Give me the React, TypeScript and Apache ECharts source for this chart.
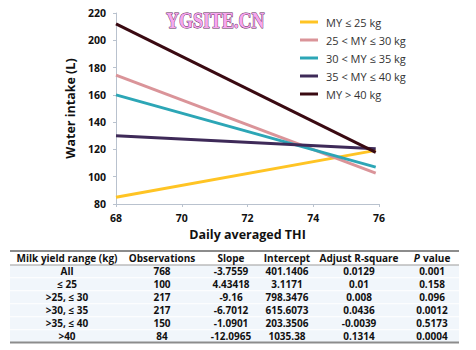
import React, { useEffect, useRef } from "react";
import * as echarts from "echarts";

// Chart data
const seriesNames = ["MY ≤ 25 kg", "25 < MY ≤ 30 kg", "30 < MY ≤ 35 kg", "35 < MY ≤ 40 kg", "MY > 40 kg"];
const seriesColors = ["#FFC424", "#DA9499", "#2CA6B6", "#3E2A58", "#3A0A12"];
const thiStart = 68;
const thiEnd = 75.9;
const startValues = [85, 174.5, 160, 130, 212];
const endValues = [119.3, 102.7, 107, 120.5, 117.8];

// Table data
const tableHeaders = ["Milk yield range (kg)", "Observations", "Slope", "Intercept", "Adjust R-square", "P value"];
const rangeLabels = ["All", "≤ 25", ">25, ≤ 30", ">30, ≤ 35", ">35, ≤ 40", ">40"];
const observations = ["768", "100", "217", "217", "150", "84"];
const slopes = ["-3.7559", "4.43418", "-9.16", "-6.7012", "-1.0901", "-12.0965"];
const intercepts = ["401.1406", "3.1171", "798.3476", "615.6073", "203.3506", "1035.38"];
const rSquares = ["0.0129", "0.01", "0.008", "0.0436", "-0.0039", "0.1314"];
const pValues = ["0.001", "0.158", "0.096", "0.0012", "0.5173", "0.0004"];

export default function App() {
  const ref = useRef<HTMLDivElement>(null);
  useEffect(() => {
    if (!ref.current) return;
    const chart = echarts.init(ref.current, undefined, { renderer: "svg" });

    const colX = [67, 162, 231, 287, 359, 432];
    const tableLeft = 10;
    const tableRight = 459;
    const headerY = 258;
    const rowY0 = 271.3;
    const rowH = 13;
    const font = "'Open Sans', 'DejaVu Sans', sans-serif";
    const tfs = 10;
    const columns = [rangeLabels, observations, slopes, intercepts, rSquares, pValues];

    const graphics: any[] = [];
    for (let r = 0; r < rangeLabels.length; r++) {
      graphics.push({
        type: "rect",
        shape: { x: tableLeft, y: rowY0 + r * rowH - rowH / 2 + 0.5, width: tableRight - tableLeft, height: rowH - 1 },
        style: { fill: "#F1F6FB" },
        silent: true,
      });
    }
    graphics.push({ type: "line", shape: { x1: tableLeft, y1: 251, x2: tableRight, y2: 251 }, style: { stroke: "#8C8C8C", lineWidth: 2 } });
    graphics.push({ type: "line", shape: { x1: tableLeft, y1: 265, x2: tableRight, y2: 265 }, style: { stroke: "#9A9A9A", lineWidth: 1 } });
    graphics.push({ type: "line", shape: { x1: tableLeft, y1: 342.5, x2: tableRight, y2: 342.5 }, style: { stroke: "#8C8C8C", lineWidth: 2 } });

    tableHeaders.forEach((h, i) => {
      if (i === 5) {
        graphics.push({
          type: "text",
          x: colX[i],
          y: headerY,
          style: {
            text: "{i|P} {n|value}",
            align: "center",
            verticalAlign: "middle",
            rich: {
              i: { fontStyle: "italic", fontWeight: "bold", fontSize: tfs, fontFamily: font, fill: "#111" },
              n: { fontWeight: "bold", fontSize: tfs, fontFamily: font, fill: "#111" },
            },
          },
        });
      } else {
        graphics.push({
          type: "text",
          x: colX[i],
          y: headerY,
          style: { text: h, align: "center", verticalAlign: "middle", fontWeight: "bold", fontSize: tfs, fontFamily: font, fill: "#111" },
        });
      }
    });
    columns.forEach((col, c) => {
      col.forEach((v, r) => {
        graphics.push({
          type: "text",
          x: colX[c],
          y: rowY0 + r * rowH,
          style: { text: v, align: "center", verticalAlign: "middle", fontWeight: "bold", fontSize: tfs, fontFamily: font, fill: "#111" },
        });
      });
    });

    // watermark
    graphics.push({
      type: "text",
      x: 166,
      y: 9,
      scaleY: 1.25,
      style: {
        text: "YGSITE.CN",
        fontSize: 18,
        fontWeight: "bold",
        fontFamily: "'Liberation Serif', 'DejaVu Serif', serif",
        fill: "#F7A6EE",
        stroke: "#5A2A55",
        lineWidth: 0.8,
      },
    });

    chart.setOption({
      animation: false,
      backgroundColor: "#ffffff",
      grid: { left: 116, right: 97, top: 13, bottom: 146 },
      legend: {
        orient: "vertical",
        left: 295,
        top: 10,
        icon: "rect",
        itemWidth: 18,
        itemHeight: 3,
        itemGap: 4,
        textStyle: { fontSize: 11, color: "#333", fontFamily: font, lineHeight: 14, padding: [0, 0, 0, 3] },
        data: seriesNames,
      },
      xAxis: {
        type: "value",
        min: 68,
        max: 76,
        interval: 2,
        name: "Daily averaged THI",
        nameLocation: "middle",
        nameGap: 23,
        nameTextStyle: { fontSize: 12.5, fontWeight: "bold", color: "#111", fontFamily: font },
        axisLine: { show: true, lineStyle: { color: "#B9C2CE", width: 1 } },
        axisTick: { show: true, length: 3, lineStyle: { color: "#B9C2CE" } },
        axisLabel: { fontSize: 10.5, fontWeight: "bold", color: "#111", margin: 8, fontFamily: font },
        splitLine: { show: false },
      },
      yAxis: {
        type: "value",
        min: 80,
        max: 220,
        interval: 20,
        name: "Water intake (L)",
        nameLocation: "middle",
        nameGap: 32,
        nameTextStyle: { fontSize: 12.5, fontWeight: "bold", color: "#111", fontFamily: font },
        axisLine: { show: true, lineStyle: { color: "#B9C2CE", width: 1 } },
        axisTick: { show: true, length: 3, lineStyle: { color: "#B9C2CE" } },
        axisLabel: { fontSize: 10.5, fontWeight: "bold", color: "#111", margin: 10, fontFamily: font },
        splitLine: { show: false },
      },
      series: seriesNames.map((n, i) => ({
        name: n,
        type: "line",
        data: [
          [thiStart, startValues[i]],
          [thiEnd, endValues[i]],
        ],
        showSymbol: false,
        symbol: "none",
        lineStyle: { width: 3, color: seriesColors[i] },
        itemStyle: { color: seriesColors[i] },
      })),
      graphic: graphics,
    });
    return () => chart.dispose();
  }, []);
  return <div ref={ref} style={{ width: 476, height: 350, position: "fixed", left: 0, top: 0 }} />;
}
